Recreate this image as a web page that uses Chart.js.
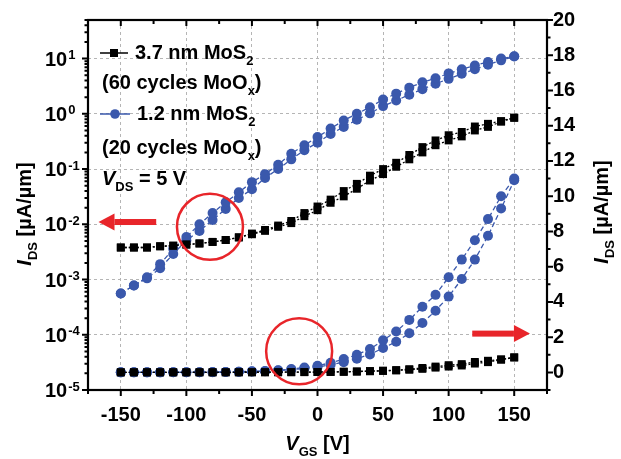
<!DOCTYPE html>
<html lang="en">
<head>
  <meta charset="UTF-8">
  <title>IDS - VGS transfer curves</title>
  <script src="https://cdn.jsdelivr.net/npm/chart.js"></script>
  <style>
    html, body { margin: 0; padding: 0; background: #fff; }
    #wrap { width: 621px; height: 459px; }
  </style>
</head>
<body>
  <div id="wrap"><canvas id="chartCanvas" width="621" height="459"></canvas></div>

  <script>
    // gate voltage sweep (V)
    const vgs = [-150, -140, -130, -120, -110, -100, -90, -80, -70, -60, -50, -40, -30, -20, -10,
                 0, 10, 20, 30, 40, 50, 60, 70, 80, 90, 100, 110, 120, 130, 140, 150];

    // 3.7 nm MoS2 (60 cycles MoOx), uA/um, two sweep directions
    const thickFwd = [3.8e-3, 3.8e-3, 3.8e-3, 4.0e-3, 4.1e-3, 4.3e-3, 4.5e-3, 4.8e-3, 5.2e-3, 5.8e-3,
                      6.8e-3, 7.9e-3, 9.5e-3, 1.15e-2, 1.6e-2, 2.1e-2, 2.8e-2, 4.0e-2, 5.4e-2, 7.6e-2,
                      0.10, 0.13, 0.18, 0.25, 0.33, 0.41, 0.47, 0.59, 0.66, 0.74, 0.85];
    const thickRev = [3.8e-3, 3.8e-3, 3.8e-3, 4.0e-3, 4.1e-3, 4.3e-3, 4.5e-3, 4.8e-3, 5.2e-3, 5.8e-3,
                      6.6e-3, 7.6e-3, 9.0e-3, 1.05e-2, 1.4e-2, 1.8e-2, 2.45e-2, 3.2e-2, 4.4e-2, 6.2e-2,
                      0.081, 0.11, 0.15, 0.20, 0.27, 0.33, 0.39, 0.50, 0.58, 0.72, 0.85];

    // 1.2 nm MoS2 (20 cycles MoOx)
    const thinFwd = [5.6e-4, 7.8e-4, 1.1e-3, 1.9e-3, 3.6e-3, 5.9e-3, 1.0e-2, 1.6e-2, 2.5e-2, 3.8e-2,
                     5.8e-2, 8.1e-2, 0.12, 0.19, 0.27, 0.38, 0.54, 0.76, 1.0, 1.32,
                     1.82, 2.32, 2.98, 3.72, 4.4, 5.4, 6.4, 7.5, 8.7, 10.0, 11.0];
    const thinRev = [5.6e-4, 7.8e-4, 1.05e-3, 1.6e-3, 2.9e-3, 5.1e-3, 7.6e-3, 1.2e-2, 1.9e-2, 3.0e-2,
                     4.3e-2, 6.9e-2, 0.10, 0.15, 0.22, 0.30, 0.43, 0.58, 0.78, 1.02,
                     1.38, 1.74, 2.22, 2.8, 3.5, 4.3, 5.3, 6.4, 7.75, 9.3, 10.9];

    // axis ticks
    const xTicks = [-150, -100, -50, 0, 50, 100, 150];
    const xMinor = [-175, -125, -75, -25, 25, 75, 125, 175];
    const logTicks = [1e-5, 1e-4, 1e-3, 1e-2, 1e-1, 1, 10];
    const logExp = ['-5', '-4', '-3', '-2', '-1', '0', '1'];
    const linTicks = [0, 2, 4, 6, 8, 10, 12, 14, 16, 18, 20];
    const linMinor = [-1, 1, 3, 5, 7, 9, 11, 13, 15, 17, 19];

    const BLUE = '#3a58ac';
    const RED = '#e8252a';
    const FONT = '"Liberation Sans", Arial, sans-serif';

    const pts = arr => vgs.map((v, i) => ({ x: v, y: arr[i] }));

    function series(arr, axis, blue) {
      return {
        data: pts(arr),
        yAxisID: axis,
        borderColor: blue ? BLUE : '#000',
        backgroundColor: blue ? BLUE : '#000',
        borderWidth: 1.3,
        borderDash: blue ? [5, 3] : [2, 2],
        pointStyle: blue ? 'circle' : 'rect',
        pointRadius: blue ? 5 : 5.6,
        pointBorderWidth: 0,
        tension: 0
      };
    }

    // draws text pieces (italic / sub / sup) left to right, returns width
    function rich(ctx, parts, x, y, size, dry) {
      let cx = x;
      parts.forEach(p => {
        const fs = (p.sub || p.sup) ? Math.round(size * 0.66) : size;
        ctx.font = (p.it ? 'italic ' : '') + 'bold ' + fs + 'px ' + FONT;
        const dy = p.sub ? size * 0.3 : (p.sup ? -size * 0.45 : 0);
        if (!dry) ctx.fillText(p.t, cx, y + dy);
        cx += ctx.measureText(p.t).width;
      });
      return cx - x;
    }

    function arrow(ctx, x0, x1, y) {
      const dir = Math.sign(x1 - x0);
      const head = 16;
      ctx.fillStyle = RED;
      ctx.fillRect(Math.min(x0, x1 - dir * head), y - 3, Math.abs(x1 - x0) - head, 6);
      ctx.beginPath();
      ctx.moveTo(x1, y);
      ctx.lineTo(x1 - dir * head, y - 8.5);
      ctx.lineTo(x1 - dir * head, y + 8.5);
      ctx.closePath();
      ctx.fill();
    }

    const decorations = {
      id: 'decorations',
      afterDraw(chart) {
        const ctx = chart.ctx;
        const a = chart.chartArea;
        const sx = chart.scales.x, sy = chart.scales.y, sy2 = chart.scales.y2;
        ctx.save();
        ctx.strokeStyle = '#000';
        ctx.fillStyle = '#000';

        // tick marks
        ctx.lineWidth = 2;
        ctx.beginPath();
        const xt = (v, len) => {
          const px = sx.getPixelForValue(v);
          ctx.moveTo(px, a.bottom); ctx.lineTo(px, a.bottom + len);
          ctx.moveTo(px, a.top); ctx.lineTo(px, a.top + len);
        };
        xTicks.forEach(v => xt(v, 6));
        xMinor.forEach(v => xt(v, 4));
        logTicks.forEach(v => {
          const py = sy.getPixelForValue(v);
          ctx.moveTo(a.left, py); ctx.lineTo(a.left - 6, py);
        });
        for (let d = -5; d <= 1; d++) {
          for (let k = 2; k <= 9; k++) {
            const v = k * Math.pow(10, d);
            if (v > sy.max) continue;
            const py = sy.getPixelForValue(v);
            ctx.moveTo(a.left, py); ctx.lineTo(a.left - 3.5, py);
          }
        }
        linTicks.forEach(v => {
          const py = sy2.getPixelForValue(v);
          ctx.moveTo(a.right, py); ctx.lineTo(a.right + 6, py);
        });
        linMinor.forEach(v => {
          const py = sy2.getPixelForValue(v);
          ctx.moveTo(a.right, py); ctx.lineTo(a.right + 3.5, py);
        });
        ctx.stroke();

        // frame
        ctx.lineWidth = 2.2;
        ctx.strokeRect(a.left, a.top, a.right - a.left, a.bottom - a.top);

        // left log tick labels 10^n
        ctx.textBaseline = 'alphabetic';
        ctx.textAlign = 'left';
        logTicks.forEach((v, i) => {
          const py = sy.getPixelForValue(v);
          ctx.font = 'bold 20px ' + FONT;
          ctx.fillText('10', 45, py + 7);
          const w = ctx.measureText('10').width;
          ctx.font = 'bold 13px ' + FONT;
          ctx.fillText(logExp[i], 45 + w + 1, py + 0.5);
        });

        // axis titles
        const yTitle = [{ t: 'I', it: true }, { t: 'DS', sub: true }, { t: ' [µA/µm]' }];
        [[24, 214], [601, 212]].forEach(([cx, cy]) => {
          ctx.save();
          ctx.translate(cx, cy);
          ctx.rotate(-Math.PI / 2);
          const w = rich(ctx, yTitle, 0, 0, 20, true);
          rich(ctx, yTitle, -w / 2, 7, 20);
          ctx.restore();
        });
        const xTitle = [{ t: 'V', it: true }, { t: 'GS', sub: true }, { t: ' [V]' }];
        const xw = rich(ctx, xTitle, 0, 0, 20, true);
        rich(ctx, xTitle, (a.left + a.right) / 2 - xw / 2, 450, 20);

        // legend
        ctx.lineWidth = 1.5;
        ctx.setLineDash([]);
        ctx.beginPath(); ctx.moveTo(100, 53); ctx.lineTo(128, 53); ctx.stroke();
        ctx.fillRect(110, 49, 8, 8);
        ctx.strokeStyle = BLUE; ctx.fillStyle = BLUE;
        ctx.beginPath(); ctx.moveTo(100, 114); ctx.lineTo(130, 114); ctx.stroke();
        ctx.beginPath(); ctx.arc(115, 114, 4.8, 0, Math.PI * 2); ctx.fill();
        ctx.fillStyle = '#000';
        rich(ctx, [{ t: '3.7 nm MoS' }, { t: '2', sub: true }], 135, 59, 20);
        rich(ctx, [{ t: '(60 cycles MoO' }, { t: 'x', sub: true }, { t: ')' }], 102, 89, 20);
        rich(ctx, [{ t: '1.2 nm MoS' }, { t: '2', sub: true }], 137, 120, 20);
        rich(ctx, [{ t: '(20 cycles MoO' }, { t: 'x', sub: true }, { t: ')' }], 102, 154, 20);
        rich(ctx, [{ t: 'V', it: true }, { t: 'DS', sub: true }, { t: ' = 5 V' }], 102, 185, 20);

        // red guide marks
        ctx.strokeStyle = RED;
        ctx.lineWidth = 2.5;
        ctx.beginPath();
        ctx.arc(sx.getPixelForValue(-82), sy.getPixelForValue(9e-3), 33, 0, Math.PI * 2);
        ctx.stroke();
        ctx.beginPath();
        ctx.arc(sx.getPixelForValue(-14), sy2.getPixelForValue(1.2), 33, 0, Math.PI * 2);
        ctx.stroke();
        const ly = sy.getPixelForValue(1.1e-2);
        arrow(ctx, sx.getPixelForValue(-123), sx.getPixelForValue(-167), ly);
        const ry = sy2.getPixelForValue(2.2);
        arrow(ctx, sx.getPixelForValue(118), sx.getPixelForValue(162), ry);

        ctx.restore();
      }
    };

    const tickFont = { family: FONT, weight: 'bold', size: 20 };
    const gridStyle = { color: '#b5b5b5', lineWidth: 1, drawTicks: false };

    new Chart(document.getElementById('chartCanvas').getContext('2d'), {
      type: 'line',
      data: {
        datasets: [
          series(thickFwd, 'y', false),
          series(thickRev, 'y', false),
          series(thinFwd, 'y', true),
          series(thinRev, 'y', true),
          series(thickFwd, 'y2', false),
          series(thickRev, 'y2', false),
          series(thinFwd, 'y2', true),
          series(thinRev, 'y2', true)
        ]
      },
      options: {
        responsive: false,
        devicePixelRatio: 1,
        animation: false,
        layout: { padding: { top: 20, left: 0, right: 0, bottom: 0 } },
        plugins: { legend: { display: false }, tooltip: { enabled: false } },
        scales: {
          x: {
            type: 'linear',
            min: -175,
            max: 175,
            afterBuildTicks: s => { s.ticks = xTicks.map(v => ({ value: v })); },
            afterFit: s => { s.height = 69; },
            ticks: { font: tickFont, color: '#000', padding: 13, maxRotation: 0 },
            grid: gridStyle,
            border: { display: false, dash: [3, 3] }
          },
          y: {
            type: 'logarithmic',
            position: 'left',
            min: 1e-5,
            max: 50,
            afterBuildTicks: s => { s.ticks = logTicks.map(v => ({ value: v })); },
            afterFit: s => { s.width = 88; },
            ticks: { display: false },
            grid: gridStyle,
            border: { display: false, dash: [3, 3] }
          },
          y2: {
            type: 'linear',
            position: 'right',
            min: -1,
            max: 20,
            afterBuildTicks: s => { s.ticks = linTicks.map(v => ({ value: v })); },
            afterFit: s => { s.width = 74; },
            ticks: { font: tickFont, color: '#000', padding: 6 },
            grid: { drawOnChartArea: false, drawTicks: false },
            border: { display: false }
          }
        }
      },
      plugins: [decorations]
    });
  </script>
</body>
</html>
